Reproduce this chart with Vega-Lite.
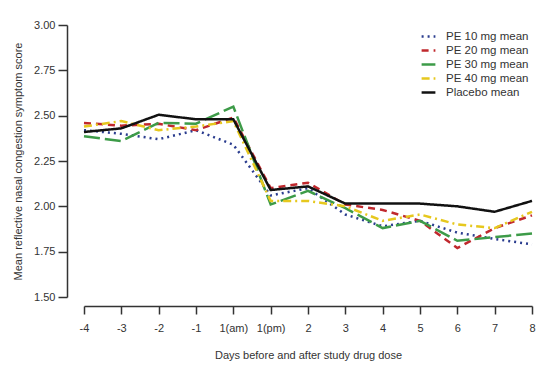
{
  "$schema": "https://vega.github.io/schema/vega-lite/v6.json",
  "autosize": "none",
  "width": 448,
  "height": 272,
  "padding": {"left": 84, "top": 25, "right": 18, "bottom": 83},
  "background": "white",
  "config": {
    "view": {"stroke": null},
    "font": "Liberation Sans",
    "axis": {"labelFont": "Liberation Sans", "titleFont": "Liberation Sans", "labelColor": "#333333", "titleColor": "#333333", "domainColor": "#333333", "tickColor": "#333333", "domainWidth": 1.5, "tickWidth": 1.5, "grid": false, "labelFontSize": 11, "titleFontSize": 11, "titleFontWeight": "normal"}
  },
  "data": {
    "values": [
      {"day": "-4", "series": "PE 10 mg mean", "score": 2.42},
      {"day": "-3", "series": "PE 10 mg mean", "score": 2.40},
      {"day": "-2", "series": "PE 10 mg mean", "score": 2.37},
      {"day": "-1", "series": "PE 10 mg mean", "score": 2.42},
      {"day": "1(am)", "series": "PE 10 mg mean", "score": 2.34},
      {"day": "1(pm)", "series": "PE 10 mg mean", "score": 2.06},
      {"day": "2", "series": "PE 10 mg mean", "score": 2.10},
      {"day": "3", "series": "PE 10 mg mean", "score": 1.955},
      {"day": "4", "series": "PE 10 mg mean", "score": 1.89},
      {"day": "5", "series": "PE 10 mg mean", "score": 1.92},
      {"day": "6", "series": "PE 10 mg mean", "score": 1.855},
      {"day": "7", "series": "PE 10 mg mean", "score": 1.82},
      {"day": "8", "series": "PE 10 mg mean", "score": 1.79},

      {"day": "-4", "series": "PE 20 mg mean", "score": 2.46},
      {"day": "-3", "series": "PE 20 mg mean", "score": 2.445},
      {"day": "-2", "series": "PE 20 mg mean", "score": 2.455},
      {"day": "-1", "series": "PE 20 mg mean", "score": 2.42},
      {"day": "1(am)", "series": "PE 20 mg mean", "score": 2.49},
      {"day": "1(pm)", "series": "PE 20 mg mean", "score": 2.10},
      {"day": "2", "series": "PE 20 mg mean", "score": 2.13},
      {"day": "3", "series": "PE 20 mg mean", "score": 2.01},
      {"day": "4", "series": "PE 20 mg mean", "score": 1.98},
      {"day": "5", "series": "PE 20 mg mean", "score": 1.92},
      {"day": "6", "series": "PE 20 mg mean", "score": 1.77},
      {"day": "7", "series": "PE 20 mg mean", "score": 1.88},
      {"day": "8", "series": "PE 20 mg mean", "score": 1.95},

      {"day": "-4", "series": "PE 30 mg mean", "score": 2.386},
      {"day": "-3", "series": "PE 30 mg mean", "score": 2.36},
      {"day": "-2", "series": "PE 30 mg mean", "score": 2.46},
      {"day": "-1", "series": "PE 30 mg mean", "score": 2.456},
      {"day": "1(am)", "series": "PE 30 mg mean", "score": 2.55},
      {"day": "1(pm)", "series": "PE 30 mg mean", "score": 2.01},
      {"day": "2", "series": "PE 30 mg mean", "score": 2.085},
      {"day": "3", "series": "PE 30 mg mean", "score": 1.99},
      {"day": "4", "series": "PE 30 mg mean", "score": 1.88},
      {"day": "5", "series": "PE 30 mg mean", "score": 1.92},
      {"day": "6", "series": "PE 30 mg mean", "score": 1.81},
      {"day": "7", "series": "PE 30 mg mean", "score": 1.83},
      {"day": "8", "series": "PE 30 mg mean", "score": 1.85},

      {"day": "-4", "series": "PE 40 mg mean", "score": 2.44},
      {"day": "-3", "series": "PE 40 mg mean", "score": 2.47},
      {"day": "-2", "series": "PE 40 mg mean", "score": 2.42},
      {"day": "-1", "series": "PE 40 mg mean", "score": 2.44},
      {"day": "1(am)", "series": "PE 40 mg mean", "score": 2.47},
      {"day": "1(pm)", "series": "PE 40 mg mean", "score": 2.03},
      {"day": "2", "series": "PE 40 mg mean", "score": 2.03},
      {"day": "3", "series": "PE 40 mg mean", "score": 2.00},
      {"day": "4", "series": "PE 40 mg mean", "score": 1.92},
      {"day": "5", "series": "PE 40 mg mean", "score": 1.955},
      {"day": "6", "series": "PE 40 mg mean", "score": 1.90},
      {"day": "7", "series": "PE 40 mg mean", "score": 1.88},
      {"day": "8", "series": "PE 40 mg mean", "score": 1.97},

      {"day": "-4", "series": "Placebo mean", "score": 2.41},
      {"day": "-3", "series": "Placebo mean", "score": 2.43},
      {"day": "-2", "series": "Placebo mean", "score": 2.505},
      {"day": "-1", "series": "Placebo mean", "score": 2.48},
      {"day": "1(am)", "series": "Placebo mean", "score": 2.48},
      {"day": "1(pm)", "series": "Placebo mean", "score": 2.09},
      {"day": "2", "series": "Placebo mean", "score": 2.11},
      {"day": "3", "series": "Placebo mean", "score": 2.015},
      {"day": "4", "series": "Placebo mean", "score": 2.015},
      {"day": "5", "series": "Placebo mean", "score": 2.015},
      {"day": "6", "series": "Placebo mean", "score": 2.00},
      {"day": "7", "series": "Placebo mean", "score": 1.97},
      {"day": "8", "series": "Placebo mean", "score": 2.03}
    ]
  },
  "mark": {"type": "line", "strokeWidth": 2.5},
  "encoding": {
    "x": {
      "field": "day", "type": "ordinal",
      "scale": {"type": "point", "padding": 0, "domain": ["-4", "-3", "-2", "-1", "1(am)", "1(pm)", "2", "3", "4", "5", "6", "7", "8"]},
      "axis": {"title": "Days before and after study drug dose", "labelAngle": 0, "offset": 9, "tickSize": 8, "labelPadding": 8, "titlePadding": 16}
    },
    "y": {
      "field": "score", "type": "quantitative",
      "scale": {"domain": [1.5, 3.0], "nice": false, "zero": false},
      "axis": {"title": "Mean reflective nasal congestion symptom score", "values": [1.5, 1.75, 2.0, 2.25, 2.5, 2.75, 3.0], "format": ".2f", "offset": 17, "tickSize": 9, "labelPadding": 3, "titlePadding": 10}
    },
    "color": {
      "field": "series", "type": "nominal", "title": null,
      "scale": {"domain": ["PE 10 mg mean", "PE 20 mg mean", "PE 30 mg mean", "PE 40 mg mean", "Placebo mean"], "range": ["#2b3d8f", "#c0282d", "#3d9b48", "#e6c81e", "#111111"]},
      "legend": {"orient": "none", "legendX": 336, "legendY": 3, "symbolType": "stroke", "symbolSize": 190, "symbolStrokeWidth": 2.5, "labelFontSize": 11.5, "labelFont": "Liberation Sans", "labelColor": "#333333", "rowPadding": 0, "labelOffset": 9}
    },
    "strokeDash": {
      "field": "series", "type": "nominal", "title": null,
      "scale": {"domain": ["PE 10 mg mean", "PE 20 mg mean", "PE 30 mg mean", "PE 40 mg mean", "Placebo mean"], "range": [[2, 4], [7, 5], [16, 5], [8, 4, 2, 4], [1, 0]]}
    }
  }
}
